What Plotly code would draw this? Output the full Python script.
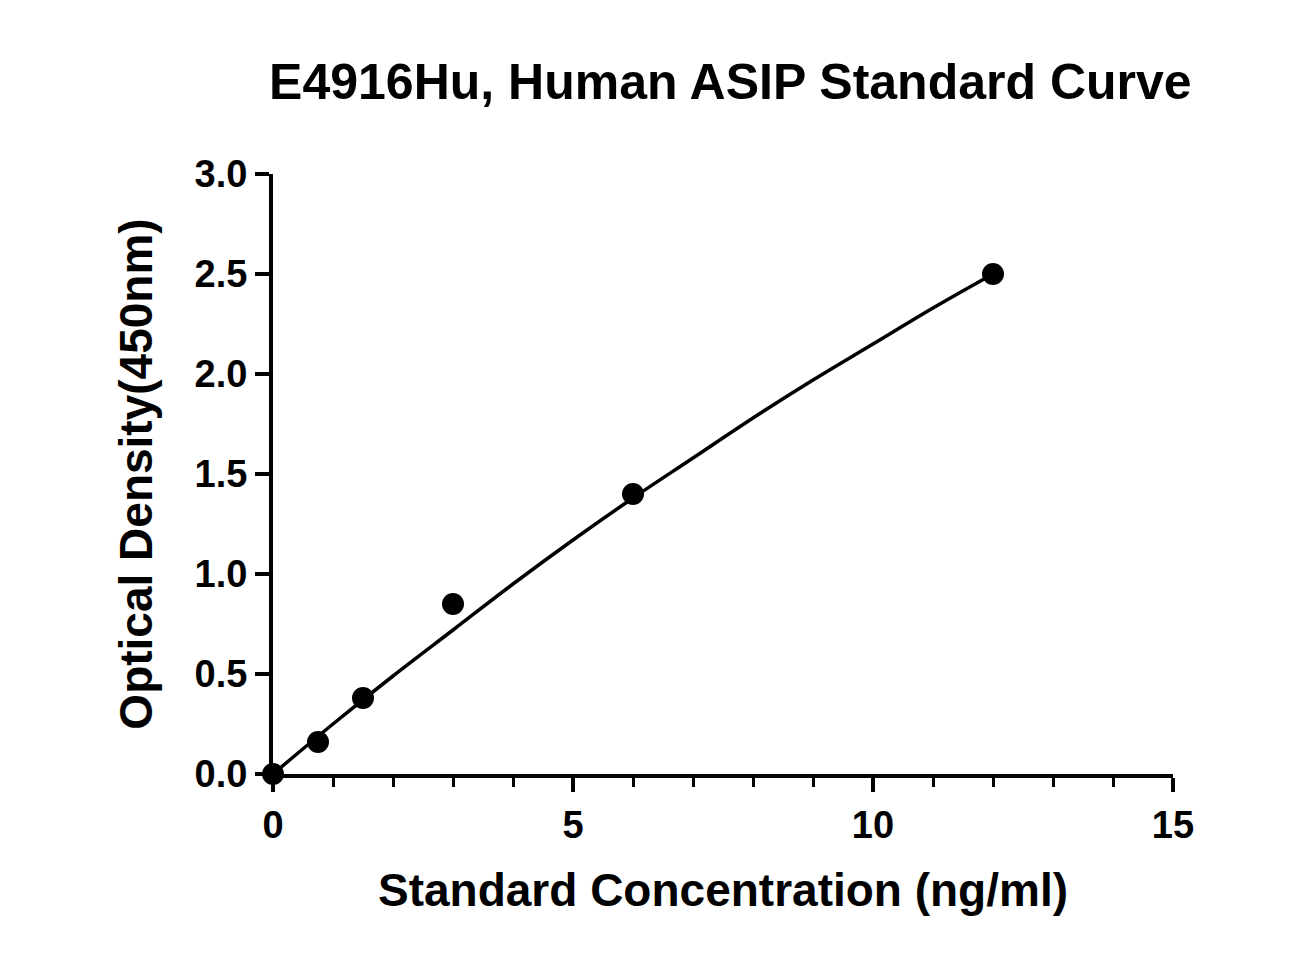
import plotly.graph_objects as go

conc = [0, 0.75, 1.5, 3, 6, 12]
od = [0.0, 0.16, 0.38, 0.85, 1.40, 2.50]

# fitted curve
curve_x = [0, 1, 2, 3, 4, 5, 6, 7, 8, 9, 10, 11, 12]
curve_y = [0.0, 0.25, 0.49, 0.72, 0.95, 1.17, 1.38, 1.58, 1.78, 1.97, 2.15, 2.33, 2.50]

font = "Liberation Sans, Arial, sans-serif"

fig = go.Figure()
fig.add_trace(go.Scatter(x=curve_x, y=curve_y, mode="lines", line=dict(color="black", width=3.5, shape="spline"),
                         cliponaxis=False, showlegend=False))
fig.add_trace(go.Scatter(x=conc, y=od, mode="markers", marker=dict(color="black", size=22),
                         cliponaxis=False, showlegend=False))

fig.update_layout(
    width=1311, height=975,
    paper_bgcolor="white", plot_bgcolor="white",
    margin=dict(l=265, r=146, t=166, b=209),
    font=dict(family=font, color="black"),
    title=dict(text="<b>E4916Hu, Human ASIP Standard Curve</b>", x=0.551, xanchor="center",
               y=0.925, yanchor="middle", font=dict(size=50)),
)
fig.update_xaxes(
    range=[0, 15], tickvals=[0, 5, 10, 15], ticktext=["<b>0</b>", "<b>5</b>", "<b>10</b>", "<b>15</b>"],
    showline=True, linecolor="black", linewidth=4, ticks="outside", tickwidth=4, ticklen=14,
    tickcolor="black", tickfont=dict(size=38), showgrid=False, zeroline=False,
    minor=dict(dtick=1, ticks="outside", ticklen=9, tickwidth=3, tickcolor="black"),
    title=dict(text="<b>Standard Concentration (ng/ml)</b>", font=dict(size=46), standoff=30),
)
fig.update_yaxes(
    range=[0, 3], tickvals=[0, 0.5, 1, 1.5, 2, 2.5, 3],
    ticktext=["<b>0.0</b>", "<b>0.5</b>", "<b>1.0</b>", "<b>1.5</b>", "<b>2.0</b>", "<b>2.5</b>", "<b>3.0</b>"],
    showline=True, linecolor="black", linewidth=4, ticks="outside", tickwidth=4, ticklen=14,
    tickcolor="black", tickfont=dict(size=38), showgrid=False, zeroline=False,
    title=dict(text="<b>Optical Density(450nm)</b>", font=dict(size=46), standoff=28),
)

fig.write_html("out.html")
